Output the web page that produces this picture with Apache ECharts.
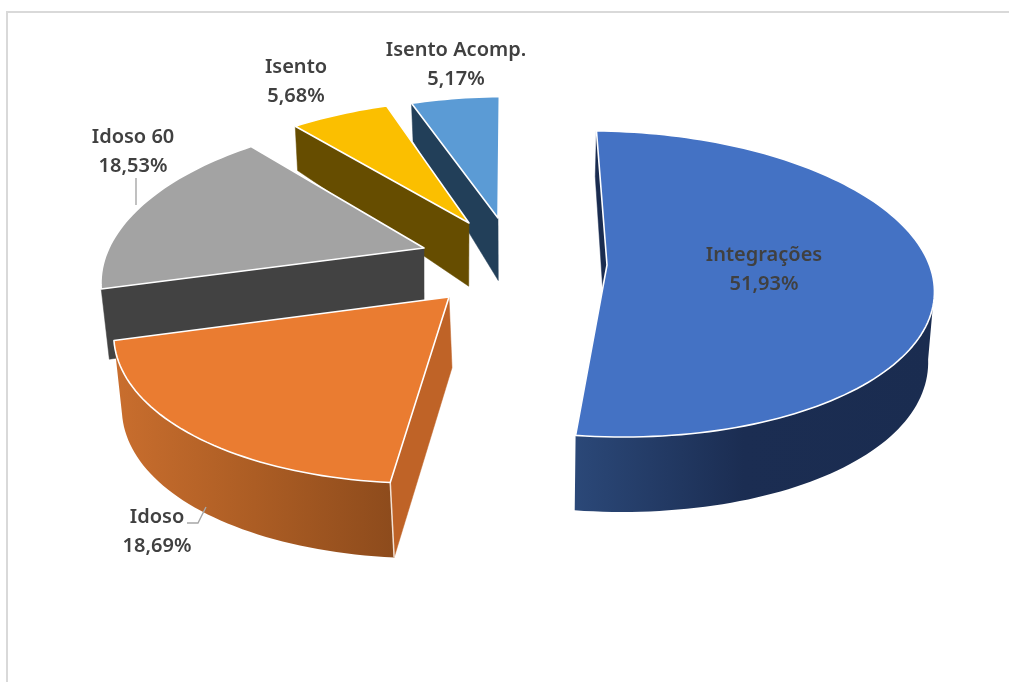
<!DOCTYPE html>
<html><head><meta charset="utf-8">
<style>html,body{margin:0;padding:0;background:#fff}#c{width:1009px;height:682px}</style>
<script src="https://cdn.jsdelivr.net/npm/echarts@6/dist/echarts.min.js"></script>
</head><body><div id="c"></div>
<script>
// data
const categories = ['Integrações', 'Idoso', 'Idoso 60', 'Isento', 'Isento Acomp.'];
const shares = [51.93, 18.69, 18.53, 5.68, 5.17];
const valueLabels = ['51,93%', '18,69%', '18,53%', '5,68%', '5,17%'];

// look of each slice
const topColors = ['#4472C4', '#EA7C31', '#A3A3A3', '#FBBF00', '#5B9BD5'];
const cutColors = ['#1A2C50', '#BF6327', '#424242', '#664D00', '#223F59'];
const wallStops = [
  [[0, '#2B4878'], [0.47, '#1B2D52'], [1, '#1A2C50']],
  [[0, '#C96E2E'], [0.5, '#AC5D24'], [1, '#8D4B1C']],
  null, null, null
];
// exploded view: apex position, radius, vertical radius, perspective strength
const apexX = [607, 449, 424, 469, 498];
const apexY = [265, 297, 248, 223, 218];
const radiusX = [325, 326, 315, 318, 318];
const radiusY = [150.5, 155, 152, 145, 142];
const persp = [0.124, 0.168, 0.168, 0.168, 0.168];
const shear = [-5, -131, -103, -111, -82];
const tilt = [8, 0, 0, 0, 0];
const startAngle = -2.2;
const fromNudge = [0, 0, 3, 0, 0];
const toNudge = [0, 2.4, 0, 0, 0];
const shrinkX = 650;
const shrinkQ = [0.015, 0.015, 0.025, 0.015, 0.015];
const bottomShift = [-2, 0, -5.6, -3, -2];
// labels: centre of the two-line block
const labelX = [764, 157, 133, 296, 456];
const labelY = [270, 532, 152, 82, 65];
const leaders = [null, [[206, 507], [198, 523], [187, 523]], [[136, 178], [136, 205]], null, null];

const total = shares.reduce((a, b) => a + b, 0);
const depthAt = y => {
  const u = Math.max(0, (480 - y) / 380);
  return 75 - 38 * u * u * u;
};
function pointOf(i, deg) {
  const t = deg * Math.PI / 180;
  const s = 1 / (1 + persp[i] * Math.cos(t));
  return [
    apexX[i] + radiusX[i] * Math.sin(t) * s + shear[i] * (s - 1),
    apexY[i] - radiusY[i] * Math.cos(t) * s + tilt[i] * Math.sin(t) * s
  ];
}
function lower(i, p) {
  return [p[0] + shrinkQ[i] * (shrinkX - p[0]) + bottomShift[i], p[1] + depthAt(p[1])];
}
function arc(i, a, b) {
  const pts = [], n = Math.max(8, Math.ceil(Math.abs(b - a) / 1.5));
  for (let k = 0; k <= n; k++) pts.push(pointOf(i, a + (b - a) * k / n));
  return pts;
}
function poly(points, style, z2) {
  return { type: 'polygon', shape: { points }, style, z2, silent: true };
}
function renderItem(params, api) {
  const i = params.dataIndex;
  let from = startAngle;
  for (let k = 0; k < i; k++) from += shares[k] / total * 360;
  const to = from + api.value(1) / total * 360 + toNudge[i];
  from += fromNudge[i];
  const base = (5 - i) * 10;
  const apex = [apexX[i], apexY[i]];
  const children = [];
  const first = pointOf(i, from);
  // cut face at the slice's starting edge
  children.push(poly([first, apex, lower(i, apex), lower(i, first)],
    { fill: cutColors[i], stroke: cutColors[i], lineWidth: 0.5 }, base + 1));
  // outer wall, for slices whose rim faces the viewer
  if (wallStops[i]) {
    const a = Math.max(from, 96);
    const rim = arc(i, a, to);
    const wall = rim.concat(rim.map(p => lower(i, p)).reverse());
    children.push(poly(wall, {
      fill: new echarts.graphic.LinearGradient(0, 0, 1, 0,
        wallStops[i].map(s => ({ offset: s[0], color: s[1] })))
    }, base + 2));
    // pale corner line where wall and cut face meet
    if (i === 1) {
      children.push({ type: 'line', silent: true, z2: base + 3,
        shape: { x1: first[0], y1: first[1], x2: lower(i, first)[0], y2: lower(i, first)[1] },
        style: { stroke: '#F3E2D5', lineWidth: 1.5 } });
    }
  }
  // top face
  const top = arc(i, from, to);
  top.push(apex);
  children.push(poly(top, { fill: topColors[i], stroke: '#FFFFFF', lineWidth: 1.6, lineJoin: 'round' }, base + 4));
  // leader
  if (leaders[i]) {
    children.push({ type: 'polyline', silent: true, z2: 200, shape: { points: leaders[i] },
      style: { stroke: '#A6A6A6', lineWidth: 1.4, fill: null } });
  }
  // label
  children.push({ type: 'text', silent: true, z2: 300,
    style: { x: labelX[i], y: labelY[i], text: api.value(0) + '\n' + valueLabels[i],
      align: 'center', verticalAlign: 'middle', lineHeight: 29,
      font: '600 20px "Noto Sans", "Open Sans", sans-serif', fill: '#404040' } });
  return { type: 'group', children };
}
const chart = echarts.init(document.getElementById('c'), null, { renderer: 'canvas' });
chart.setOption({
  animation: false,
  backgroundColor: '#FFFFFF',
  graphic: [{ type: 'polyline', shape: { points: [[7, 682], [7, 12], [1009, 12]] },
    style: { stroke: '#D9D9D9', lineWidth: 2, fill: null } }],
  series: [{
    type: 'custom',
    coordinateSystem: 'none',
    renderItem,
    encode: { value: 1 },
    data: categories.map((c, i) => [c, shares[i]])
  }]
});
</script></body></html>
